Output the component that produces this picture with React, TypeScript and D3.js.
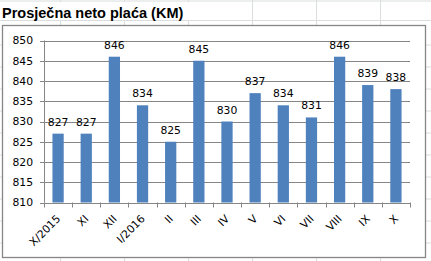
import React from "react";
import * as d3 from "d3";

const title = "Prosječna neto plaća (KM)";
const categories = ["X/2015", "XI", "XII", "I/2016", "II", "III", "IV", "V", "VI", "VII", "VIII", "IX", "X"];
const values = [827, 827, 846, 834, 825, 845, 830, 837, 834, 831, 846, 839, 838];
const yTicks = [810, 815, 820, 825, 830, 835, 840, 845, 850];
const sheetCols = [60, 124, 188, 252, 316, 380];
const sheetRows = [1, 20.5, 45, 67, 89, 111, 133, 155, 177, 199, 221, 243];

const W = 431;
const H = 261;
const plot = { left: 44, right: 410, top: 40.5, bottom: 202.5 };

export default function App() {
  const x = d3.scaleBand<string>().domain(categories).range([plot.left, plot.right]).padding(0);
  const y = d3.scaleLinear().domain([810, 850]).range([plot.bottom, plot.top]);
  const bw = x.bandwidth() / 2.5;
  const font = "'DejaVu Sans', Verdana, sans-serif";
  const fs = 10.8;
  const edges = categories.map((c) => x(c)!).concat([plot.right]);

  return (
    <svg width={W} height={H} style={{ position: "absolute", left: 0, top: 0 }}>
      <rect x={0} y={0} width={W} height={H} fill="#ffffff" />
      {sheetCols.map((c) => (
        <line key={"c" + c} x1={c + 0.5} x2={c + 0.5} y1={0} y2={H} stroke="#dadcdd" strokeWidth={1} />
      ))}
      {sheetRows.map((r) => (
        <line key={"r" + r} x1={0} x2={W} y1={r} y2={r} stroke="#dadcdd" strokeWidth={1} />
      ))}
      <rect x={0} y={2} width={200} height={18} fill="#ffffff" />
      <text x={2} y={17.5} fontFamily="'Liberation Sans', Arial, sans-serif" fontWeight="bold" fontSize={14.5} fill="#000">
        {title}
      </text>
      <rect x={2.5} y={25.5} width={423} height={232} fill="#ffffff" stroke="#868686" strokeWidth={1.3} />
      {yTicks.map((t) => (
        <g key={t}>
          <line x1={plot.left - 4} x2={plot.right} y1={Math.round(y(t)) + 0.5} y2={Math.round(y(t)) + 0.5} stroke="#868686" strokeWidth={1} />
          <text x={33} y={y(t)} dy="0.36em" textAnchor="end" fontFamily={font} fontSize={fs} fill="#000">
            {t}
          </text>
        </g>
      ))}
      <line x1={plot.left + 0.5} x2={plot.left + 0.5} y1={plot.top} y2={plot.bottom} stroke="#868686" strokeWidth={1} />
      {edges.map((e, i) => (
        <line key={"t" + i} x1={Math.round(e) + 0.5} x2={Math.round(e) + 0.5} y1={plot.bottom} y2={plot.bottom + 5} stroke="#868686" strokeWidth={1} />
      ))}
      {categories.map((c, i) => {
        const cx = x(c)! + x.bandwidth() / 2;
        const top = y(values[i]);
        return (
          <g key={c}>
            <rect x={cx - bw / 2} y={top} width={bw} height={plot.bottom - top} fill="#4f81bd" />
            <text x={cx} y={top - 8} textAnchor="middle" fontFamily={font} fontSize={fs} fill="#000">
              {values[i]}
            </text>
            <text
              transform={`translate(${cx + 3},${plot.bottom + 17}) rotate(-45)`}
              textAnchor="end"
              fontFamily={font}
              fontSize={fs}
              fill="#000"
            >
              {c}
            </text>
          </g>
        );
      })}
    </svg>
  );
}
